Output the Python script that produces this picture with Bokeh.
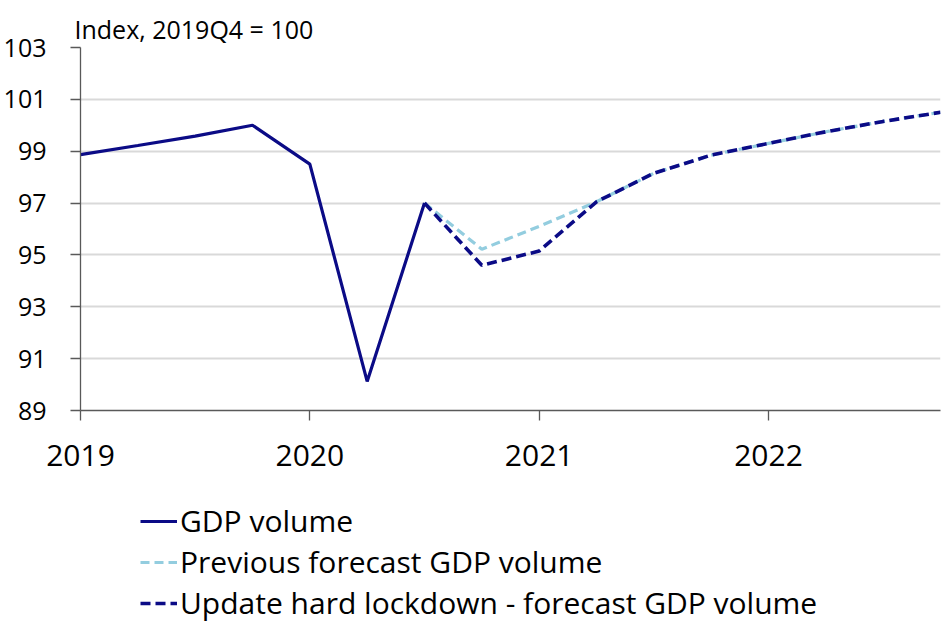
from bokeh.plotting import figure
from bokeh.models import Legend, LegendItem, Range1d, FixedTicker
from bokeh.layouts import column
from bokeh.embed import file_html
from bokeh.resources import INLINE

# ---- data ----
gdp_quarters = ["2019Q1", "2019Q2", "2019Q3", "2019Q4", "2020Q1", "2020Q2", "2020Q3"]
gdp_values = [98.87, 99.22, 99.58, 100.0, 98.5, 90.12, 97.0]

prev_quarters = ["2020Q3", "2020Q4", "2021Q1", "2021Q2", "2021Q3", "2021Q4",
                 "2022Q1", "2022Q2", "2022Q3", "2022Q4"]
prev_values = [97.0, 95.22, 96.1, 97.05, 98.15, 98.85, 99.3, 99.75, 100.15, 100.5]

upd_quarters = ["2020Q3", "2020Q4", "2021Q1", "2021Q2", "2021Q3", "2021Q4",
                "2022Q1", "2022Q2", "2022Q3", "2022Q4"]
upd_values = [97.0, 94.6, 95.15, 97.05, 98.15, 98.85, 99.3, 99.75, 100.15, 100.5]

y_ticks = [89, 91, 93, 95, 97, 99, 101, 103]
x_ticks = [2019, 2020, 2021, 2022]
title_text = "Index, 2019Q4 = 100"
names = ["GDP volume", "Previous forecast GDP volume",
         "Update hard lockdown - forecast GDP volume"]


def qpos(q):
    return int(q[:4]) + (int(q[5]) - 1) / 4.0


FONT = "Open Sans"
NAVY = "#0B0B86"
LIGHT = "#93CDDF"
AXIS = "#595959"

STYLES = [
    dict(line_color=NAVY, line_width=3.2),
    dict(line_color=LIGHT, line_width=3.2, line_dash="9 5"),
    dict(line_color=NAVY, line_width=3.6, line_dash="10 5"),
]
SERIES = [
    ([qpos(q) for q in gdp_quarters], gdp_values),
    ([qpos(q) for q in prev_quarters], prev_values),
    ([qpos(q) for q in upd_quarters], upd_values),
]

p = figure(width=950, height=480, output_backend="svg", toolbar_location=None,
           x_range=Range1d(2019, 2022.75), y_range=Range1d(89, 103),
           min_border_left=80, min_border_right=10, min_border_top=47,
           min_border_bottom=70)
p.outline_line_color = None
p.background_fill_color = "white"
p.border_fill_color = "white"

# title
p.title.text = title_text
p.title.text_font = FONT
p.title.text_font_size = "25px"
p.title.text_font_style = "normal"
p.title.text_color = "black"
p.title.align = "left"
p.title.vertical_align = "top"
p.title.offset = -6
p.title.standoff = 0

# grid
p.xgrid.grid_line_color = None
p.ygrid.grid_line_color = "#d9d9d9"
p.ygrid.grid_line_width = 2

# axes
p.yaxis.ticker = FixedTicker(ticks=y_ticks)
p.xaxis.ticker = FixedTicker(ticks=x_ticks)
for ax in (p.xaxis[0], p.yaxis[0]):
    ax.axis_line_color = AXIS
    ax.axis_line_width = 1.3
    ax.major_tick_line_color = AXIS
    ax.major_tick_line_width = 1.3
    ax.major_tick_in = 0
    ax.major_tick_out = 10
    ax.minor_tick_line_color = None
    ax.major_label_text_font = FONT
    ax.major_label_text_color = "black"
p.yaxis.major_label_text_font_size = "25px"
p.xaxis.major_label_text_font_size = "30px"
p.yaxis.major_label_standoff = 24
p.xaxis.major_label_standoff = 24

for i in (1, 2, 0):
    p.line(SERIES[i][0], SERIES[i][1], **STYLES[i])

# legend panel (separate strip under the chart); its lines fall outside its ranges
lg = figure(width=950, height=143, output_backend="svg", toolbar_location=None,
            x_range=Range1d(0, 1), y_range=Range1d(0, 1),
            x_axis_location=None, y_axis_location=None,
            min_border=0, min_border_left=0, min_border_right=0,
            min_border_top=0, min_border_bottom=0)
lg.grid.visible = False
lg.outline_line_color = None
lg.background_fill_color = "white"
lg.border_fill_color = "white"
swatches = [lg.line(SERIES[i][0], SERIES[i][1], **STYLES[i]) for i in range(3)]

legend = Legend(items=[LegendItem(label=n, renderers=[r]) for n, r in zip(names, swatches)],
                location=(60, 0), orientation="vertical",
                background_fill_alpha=0, border_line_color=None,
                padding=0, margin=0, spacing=0, glyph_width=37, glyph_height=36,
                label_height=36, label_standoff=3,
                label_text_font=FONT, label_text_font_size="30px",
                label_text_color="black")
lg.add_layout(legend, "center")

layout = column(p, lg, spacing=0)
open("out.html", "w").write(file_html(layout, INLINE))
